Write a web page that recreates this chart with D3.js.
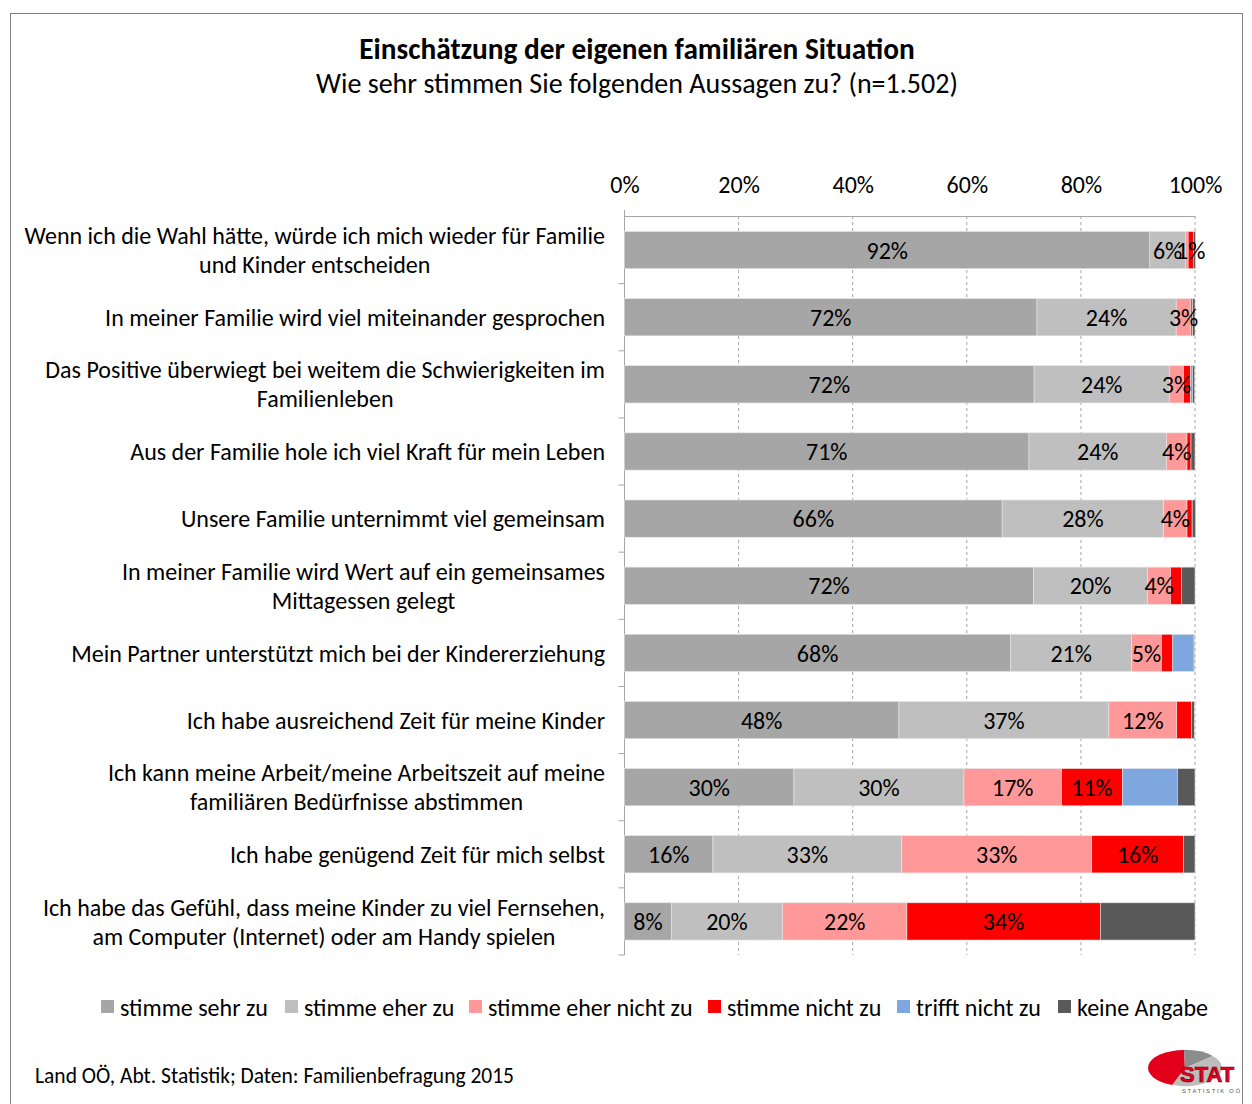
<!DOCTYPE html>
<html>
<head>
<meta charset="utf-8">
<script src="https://cdn.jsdelivr.net/npm/d3@7"></script>
<style>
  body { margin: 0; background: #fff; }
  svg text { font-family: Carlito, Calibri, Lato, sans-serif; fill: #000; }
</style>
</head>
<body>
<div id="chart"></div>
<script>
// categories (statements), top to bottom
var statements = [
    ["Wenn ich die Wahl hätte, würde ich mich wieder für Familie", "und Kinder entscheiden"],
    ["In meiner Familie wird viel miteinander gesprochen"],
    ["Das Positive überwiegt bei weitem die Schwierigkeiten im", "Familienleben"],
    ["Aus der Familie hole ich viel Kraft für mein Leben"],
    ["Unsere Familie unternimmt viel gemeinsam"],
    ["In meiner Familie wird Wert auf ein gemeinsames", "Mittagessen gelegt"],
    ["Mein Partner unterstützt mich bei der Kindererziehung"],
    ["Ich habe ausreichend Zeit für meine Kinder"],
    ["Ich kann meine Arbeit/meine Arbeitszeit auf meine", "familiären Bedürfnisse abstimmen"],
    ["Ich habe genügend Zeit für mich selbst"],
    ["Ich habe das Gefühl, dass meine Kinder zu viel Fernsehen,", "am Computer (Internet) oder am Handy spielen"]
];

// series values in percent, same order as statements
var sehrZu       = [92.1, 72.3, 71.8, 70.9, 66.2, 71.7, 67.7, 48.1, 29.7, 15.5,  8.2];
var eherZu       = [ 6.2, 24.4, 23.7, 24.1, 28.3, 20.0, 21.2, 36.8, 29.8, 33.1, 19.5];
var eherNichtZu  = [ 0.5,  2.6,  2.5,  3.6,  4.1,  4.0,  5.2, 11.9, 17.1, 33.3, 21.8];
var nichtZu      = [ 0.9,  0.3,  1.2,  0.7,  0.9,  1.9,  2.0,  2.6, 10.7, 16.1, 33.9];
var trifftNicht  = [ 0.0,  0.0,  0.35, 0.0,  0.0,  0.0,  3.6,  0.0,  9.6,  0.0,  0.0];
var keineAngabe  = [ 0.4,  0.4,  0.4,  0.7,  0.6,  2.4,  0.2,  0.5,  3.1,  2.0, 16.6];

var seriesNames = ["stimme sehr zu", "stimme eher zu", "stimme eher nicht zu",
                   "stimme nicht zu", "trifft nicht zu", "keine Angabe"];
var seriesColors = ["#a6a6a6", "#bfbfbf", "#ff9999", "#ff0000", "#7ea7df", "#595959"];

// which segments carry a data label
var labelledSeries = [0, 1, 2, 3];
var extraLabels = [[0, 3]];   // [row, series]: "1%" on the first bar

var xTicks = [0, 20, 40, 60, 80, 100];

var title = "Einschätzung der eigenen familiären Situation";
var subtitle = "Wie sehr stimmen Sie folgenden Aussagen zu? (n=1.502)";
var source = "Land OÖ, Abt. Statistik; Daten: Familienbefragung 2015";

// logo pie shares (red, dark grey, light grey)
var logoShares = [44, 14, 42];
var logoColors = ["#e3001b", "#8c8c8c", "#bdbdbd"];

var W = 1252, H = 1104;

var svg = d3.select("#chart").append("svg")
    .attr("width", W)
    .attr("height", H);

// outer frame
svg.append("rect")
    .attr("x", 10.5).attr("y", 13.5)
    .attr("width", 1232).attr("height", 1100)
    .attr("fill", "none")
    .attr("stroke", "#808080")
    .attr("stroke-width", 1);

// titles
svg.append("text")
    .attr("x", 637).attr("y", 59)
    .attr("text-anchor", "middle")
    .style("font-size", "29.3px")
    .style("font-weight", "bold")
    .text(title);

svg.append("text")
    .attr("x", 637).attr("y", 93)
    .attr("text-anchor", "middle")
    .style("font-size", "28px")
    .text(subtitle);

// scales
var x = d3.scaleLinear().domain([0, 100]).range([624.5, 1195]);
var y = d3.scaleBand()
    .domain(d3.range(statements.length))
    .range([216.5, 955])
    .paddingInner(0.445)
    .paddingOuter(0.2225);

// gridlines
svg.append("g").selectAll("line")
    .data(xTicks.filter(d => d > 0))
    .enter().append("line")
    .attr("x1", d => x(d)).attr("x2", d => x(d))
    .attr("y1", 216).attr("y2", 955)
    .attr("stroke", "#a6a6a6")
    .attr("stroke-dasharray", "3,3");

// top axis
var xAxis = d3.axisTop(x)
    .tickValues(xTicks)
    .tickFormat(d => d + "%")
    .tickSize(0)
    .tickPadding(23);

var gx = svg.append("g")
    .attr("transform", "translate(0,216)")
    .call(xAxis);
gx.select(".domain").attr("stroke", "#a6a6a6");
gx.selectAll("text")
    .style("font-size", "24px")
    .attr("font-family", null);

// small tick above the 0% corner
svg.append("line")
    .attr("x1", x(0)).attr("x2", x(0))
    .attr("y1", 210).attr("y2", 216)
    .attr("stroke", "#a6a6a6");

// left axis line with category separator ticks
svg.append("line")
    .attr("x1", x(0)).attr("x2", x(0))
    .attr("y1", 216).attr("y2", 955)
    .attr("stroke", "#a6a6a6");

svg.append("g").selectAll("line")
    .data(d3.range(1, statements.length + 1))
    .enter().append("line")
    .attr("x1", x(0) - 6).attr("x2", x(0))
    .attr("y1", d => y(d - 1) + y.step() - (y.step() - y.bandwidth()) / 2)
    .attr("y2", d => y(d - 1) + y.step() - (y.step() - y.bandwidth()) / 2)
    .attr("stroke", "#a6a6a6");

// stack data
var rows = statements.map((s, i) => ({
    i: i,
    v: [sehrZu[i], eherZu[i], eherNichtZu[i], nichtZu[i], trifftNicht[i], keineAngabe[i]]
}));
var keys = d3.range(seriesNames.length);
var stacked = d3.stack()
    .keys(keys)
    .value((d, k) => d.v[k])(rows);

var layers = svg.append("g").selectAll("g")
    .data(stacked)
    .enter().append("g")
    .attr("fill", (d, k) => seriesColors[k]);

layers.selectAll("rect")
    .data(d => d)
    .enter().append("rect")
    .attr("x", d => x(d[0]))
    .attr("y", d => y(d.data.i))
    .attr("width", d => x(d[1]) - x(d[0]))
    .attr("height", y.bandwidth())
    .attr("stroke", "#e6e6e6")
    .attr("stroke-width", 0.6);

// data labels
var labels = [];
stacked.forEach((layer, k) => {
    layer.forEach(d => {
        var v = d[1] - d[0];
        var isExtra = extraLabels.some(e => e[0] === d.data.i && e[1] === k);
        var show = labelledSeries.indexOf(k) >= 0 && (v >= 2.5 && (k < 3 || v >= 5));
        if (show || isExtra) {
            labels.push({ x: (x(d[0]) + x(d[1])) / 2, y: y(d.data.i) + y.bandwidth() / 2, t: Math.round(v) + "%" });
        }
    });
});

svg.append("g").selectAll("text")
    .data(labels)
    .enter().append("text")
    .attr("x", d => d.x)
    .attr("y", d => d.y)
    .attr("dy", "0.36em")
    .attr("text-anchor", "middle")
    .style("font-size", "24px")
    .text(d => d.t);

// category labels: block right aligned, lines centred within block
var catG = svg.append("g");
statements.forEach((lines, i) => {
    var g = catG.append("g");
    var cy = y(i) + y.bandwidth() / 2;
    var lh = 29;
    var tx = lines.map((l, j) => g.append("text")
        .attr("y", cy + (j - (lines.length - 1) / 2) * lh)
        .attr("dy", "0.36em")
        .attr("text-anchor", "middle")
        .style("font-size", "24px")
        .text(l));
    var maxW = d3.max(tx, t => t.node().getComputedTextLength());
    tx.forEach(t => t.attr("x", 605 - maxW / 2));
});

// legend
var legendX = [101, 285, 469, 708, 897, 1058];
var lg = svg.append("g").selectAll("g")
    .data(seriesNames)
    .enter().append("g")
    .attr("transform", (d, k) => "translate(" + legendX[k] + ",1000)");
lg.append("rect")
    .attr("width", 13).attr("height", 13)
    .attr("fill", (d, k) => seriesColors[k]);
lg.append("text")
    .attr("x", 19).attr("y", 7)
    .attr("dy", "0.36em")
    .style("font-size", "24px")
    .text(d => d);

// source
svg.append("text")
    .attr("x", 35).attr("y", 1083)
    .style("font-size", "21.5px")
    .text(source);

// logo: flattened pie
var logo = svg.append("g").attr("transform", "translate(1185,1068) scale(1,0.49)");
var pie = d3.pie().sort(null).startAngle(-160 * Math.PI / 180).endAngle(200 * Math.PI / 180);
var arc = d3.arc().innerRadius(0).outerRadius(37);
logo.selectAll("path")
    .data(pie(logoShares))
    .enter().append("path")
    .attr("d", arc)
    .attr("fill", (d, k) => logoColors[k]);
svg.append("text")
    .attr("x", 1180).attr("y", 1082)
    .style("font-family", "Liberation Sans, Arial, sans-serif")
    .style("font-size", "22px")
    .style("font-weight", "bold")
    .style("fill", "#e3001b")
    .style("stroke", "#8a0010")
    .style("stroke-width", 0.7)
    .text("STAT");
svg.append("text")
    .attr("x", 1182).attr("y", 1093)
    .style("font-family", "Liberation Sans, Arial, sans-serif")
    .style("font-size", "6px")
    .style("letter-spacing", "1.6px")
    .style("fill", "#555")
    .text("STATISTIK OÖ");
</script>
</body>
</html>
